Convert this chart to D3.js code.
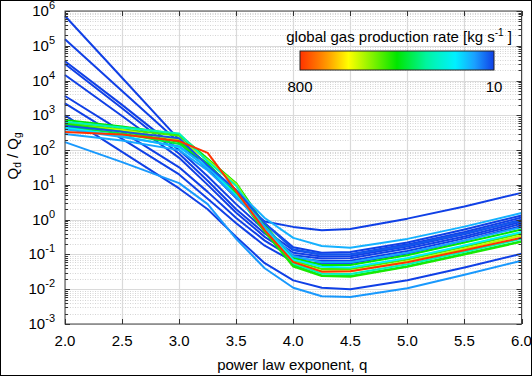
<!DOCTYPE html>
<html><head><meta charset="utf-8">
<script src="https://cdn.jsdelivr.net/npm/d3@7"></script>
<style>
body{margin:0;background:#fff}
svg{display:block}
text{font-family:"Liberation Sans",Arial,Helvetica,sans-serif;fill:#000}
</style>
</head><body>
<svg id="chart" width="532" height="376"></svg>
<script>
// ---------------- data ----------------
const qValues = [2.0, 2.5, 3.0, 3.25, 3.5, 3.75, 4.0, 4.25, 4.5, 5.0, 5.5, 6.0];

// global gas production rate of each curve [kg/s]
const gasRates = [10, 10, 10, 10, 10, 10, 10, 10, 15,
                  90, 120, 200, 70, 40, 100, 25, 16, 17, 11, 800];

// Q_d / Q_g for each curve at qValues
const ratioSeries = [
  [7.2e5, 1.2e4, 200, 28, 4.5, 0.89, 0.62, 0.50, 0.54, 1.07, 2.4, 5.9],
  [1.55e5, 5.0e3, 166, 28, 4.2, 0.79, 0.16, 0.112, 0.117, 0.22, 0.52, 1.32],
  [3.6e4, 2.0e3, 100, 17.8, 2.8, 0.50, 0.132, 0.100, 0.102, 0.195, 0.44, 1.15],
  [3.0e4, 1.6e3, 79, 13.2, 2.0, 0.40, 0.112, 0.087, 0.089, 0.17, 0.38, 1.0],
  [1.45e4, 955, 60, 10, 1.58, 0.32, 0.095, 0.076, 0.078, 0.148, 0.33, 0.87],
  [3.6e3, 340, 32, 6.3, 1.12, 0.25, 0.079, 0.065, 0.066, 0.126, 0.29, 0.76],
  [2.2e3, 210, 20, 4.0, 0.79, 0.178, 0.063, 0.055, 0.056, 0.107, 0.25, 0.66],
  [1.0e3, 89, 7.9, 2.0, 0.32, 0.056, 0.018, 0.011, 0.010, 0.018, 0.042, 0.105],
  [170, 45, 11.2, 2.8, 0.28, 0.040, 0.011, 0.0063, 0.006, 0.0107, 0.026, 0.066],
  [740, 480, 280, 56, 11.2, 0.71, 0.079, 0.050, 0.050, 0.095, 0.22, 0.52],
  [600, 400, 260, 50, 10, 0.60, 0.066, 0.038, 0.038, 0.072, 0.166, 0.40],
  [525, 380, 200, 52, 10.5, 0.56, 0.060, 0.033, 0.033, 0.063, 0.145, 0.35],
  [470, 300, 150, 42, 6.0, 0.50, 0.050, 0.025, 0.024, 0.046, 0.105, 0.24],
  [650, 450, 300, 48, 9.5, 0.56, 0.056, 0.028, 0.0275, 0.052, 0.12, 0.28],
  [560, 340, 170, 40, 5.5, 0.45, 0.045, 0.024, 0.023, 0.044, 0.10, 0.23],
  [440, 260, 120, 33, 5.0, 0.56, 0.071, 0.044, 0.042, 0.079, 0.18, 0.44],
  [290, 190, 100, 26, 4.5, 0.63, 0.089, 0.060, 0.060, 0.112, 0.25, 0.60],
  [400, 240, 130, 30, 7.1, 1.12, 0.30, 0.174, 0.155, 0.28, 0.63, 1.55],
  [500, 340, 220, 36, 7.1, 0.79, 0.141, 0.10, 0.10, 0.18, 0.40, 0.95],
  [330, 280, 182, 83, 6.6, 0.50, 0.060, 0.032, 0.033, 0.060, 0.132, 0.30]
];

const yTickExponents = [-3, -2, -1, 0, 1, 2, 3, 4, 5, 6];
const xTickValues = [2.0, 2.5, 3.0, 3.5, 4.0, 4.5, 5.0, 5.5, 6.0];
const xTickLabels = ["2.0", "2.5", "3.0", "3.5", "4.0", "4.5", "5.0", "5.5", "6.0"];
const colorbarRates = [800, 10];
const colorbarLabels = ["800", "10"];
const xAxisTitle = "power law exponent, q";
const colorbarTitle = "global gas production rate [kg s";

// ---------------- layout ----------------
const svg = d3.select("#chart");
const W = 532, H = 376;
const L = 65, R = 521.5, T = 11, B = 324;

const x = d3.scaleLinear().domain([2, 6]).range([L, R]);
const y = d3.scaleLog().domain([1e-3, 1e6]).range([B, T]);

const tScale = d3.scaleLog().domain([800, 10]).range([0, 1]).clamp(true);
const stops = [[0, "#ff3300"], [0.13, "#ff9000"], [0.25, "#ffff00"], [0.5, "#00e600"],
               [0.66, "#00f5a8"], [0.8, "#00f0ff"], [0.9, "#1aa0ff"], [1, "#1040e6"]];
const cInterp = d3.scaleLinear().domain(stops.map(s => s[0])).range(stops.map(s => s[1]))
  .interpolate(d3.interpolateRgb);
const color = r => cInterp(tScale(r));

// outer frame
svg.append("rect").attr("x", 0.5).attr("y", 0.5).attr("width", W - 1).attr("height", H - 1)
  .attr("fill", "#fff").attr("stroke", "#000").attr("stroke-width", 1);

// minor horizontal grid
const minorVals = [];
for (let e = -3; e < 6; e++) for (let m = 2; m <= 9; m++) minorVals.push(m * Math.pow(10, e));
svg.append("g").selectAll("line").data(minorVals).join("line")
  .attr("x1", L).attr("x2", R)
  .attr("y1", d => Math.round(y(d)) + 0.5).attr("y2", d => Math.round(y(d)) + 0.5)
  .attr("stroke", "#d4d4d4").attr("stroke-width", 1).attr("stroke-dasharray", "1,1.5");

// major grid
const majorVals = yTickExponents.map(e => Math.pow(10, e));
svg.append("g").selectAll("line").data(majorVals).join("line")
  .attr("x1", L).attr("x2", R)
  .attr("y1", d => Math.round(y(d)) + 0.5).attr("y2", d => Math.round(y(d)) + 0.5)
  .attr("stroke", "#dadada").attr("stroke-width", 1.2);
svg.append("g").selectAll("line").data(xTickValues).join("line")
  .attr("y1", T).attr("y2", B)
  .attr("x1", d => Math.round(x(d)) + 0.5).attr("x2", d => Math.round(x(d)) + 0.5)
  .attr("stroke", "#dadada").attr("stroke-width", 1.2);

// curves
const line = d3.line().x((d, i) => x(qValues[i])).y(d => y(d));
svg.append("g").selectAll("path").data(ratioSeries).join("path")
  .attr("d", d => line(d))
  .attr("fill", "none")
  .attr("stroke", (d, i) => color(gasRates[i]))
  .attr("stroke-width", 2)
  .attr("stroke-linejoin", "round");

// axes box
svg.append("rect").attr("x", L).attr("y", T).attr("width", R - L).attr("height", B - T)
  .attr("fill", "none").attr("stroke", "#444").attr("stroke-width", 1);

// ticks
const tk = svg.append("g").attr("stroke", "#333").attr("stroke-width", 1);
xTickValues.forEach(v => {
  const px = Math.round(x(v)) + 0.5;
  tk.append("line").attr("x1", px).attr("x2", px).attr("y1", B).attr("y2", B - 5);
  tk.append("line").attr("x1", px).attr("x2", px).attr("y1", T).attr("y2", T + 5);
});
majorVals.forEach(v => {
  const py = Math.round(y(v)) + 0.5;
  tk.append("line").attr("x1", L).attr("x2", L + 5).attr("y1", py).attr("y2", py);
  tk.append("line").attr("x1", R).attr("x2", R - 5).attr("y1", py).attr("y2", py);
});
minorVals.forEach(v => {
  const py = Math.round(y(v)) + 0.5;
  tk.append("line").attr("x1", L).attr("x2", L + 3).attr("y1", py).attr("y2", py);
  tk.append("line").attr("x1", R).attr("x2", R - 3).attr("y1", py).attr("y2", py);
});

// x tick labels
svg.append("g").selectAll("text").data(xTickValues).join("text")
  .attr("x", d => x(d)).attr("y", 346)
  .attr("text-anchor", "middle").attr("font-size", 15)
  .text((d, i) => xTickLabels[i]);

// y tick labels
const yl = svg.append("g").selectAll("text").data(yTickExponents).join("text")
  .attr("x", 55).attr("y", d => y(Math.pow(10, d)) + 5)
  .attr("text-anchor", "end").attr("font-size", 15);
yl.append("tspan").text("10");
yl.append("tspan").attr("font-size", 11).attr("dy", -7).text(d => String(d));

// axis titles
svg.append("text").attr("x", (L + R) / 2 - 1).attr("y", 370)
  .attr("text-anchor", "middle").attr("font-size", 15).text(xAxisTitle);
const yt = svg.append("text").attr("transform", "translate(18,156) rotate(-90)")
  .attr("text-anchor", "middle").attr("font-size", 15);
yt.append("tspan").text("Q");
yt.append("tspan").attr("font-size", 10).attr("dy", 3).text("d");
yt.append("tspan").attr("dy", -3).text(" / Q");
yt.append("tspan").attr("font-size", 10).attr("dy", 3).text("g");

// colorbar
const cbX0 = 300, cbX1 = 494, cbY = 51, cbH = 19;
const cbx = d3.scaleLog().domain(colorbarRates).range([cbX0, cbX1]);
const grad = svg.append("defs").append("linearGradient").attr("id", "cbg")
  .attr("x1", "0%").attr("x2", "100%").attr("y1", "0%").attr("y2", "0%");
d3.range(0, 1.0001, 0.05).forEach(t => {
  grad.append("stop").attr("offset", (t * 100) + "%").attr("stop-color", cInterp(t));
});
svg.append("rect").attr("x", cbX0).attr("y", cbY).attr("width", cbX1 - cbX0).attr("height", cbH)
  .attr("fill", "url(#cbg)").attr("stroke", "#222").attr("stroke-width", 1);
svg.append("g").selectAll("text").data(colorbarRates).join("text")
  .attr("x", d => cbx(d)).attr("y", 92).attr("text-anchor", "middle").attr("font-size", 15)
  .text((d, i) => colorbarLabels[i]);
const ct = svg.append("text").attr("x", 512).attr("y", 42).attr("text-anchor", "end").attr("font-size", 15);
ct.append("tspan").text(colorbarTitle);
ct.append("tspan").attr("font-size", 10).attr("dy", -6).text("-1");
ct.append("tspan").attr("dy", 6).text(" ]");
</script>
</body></html>
